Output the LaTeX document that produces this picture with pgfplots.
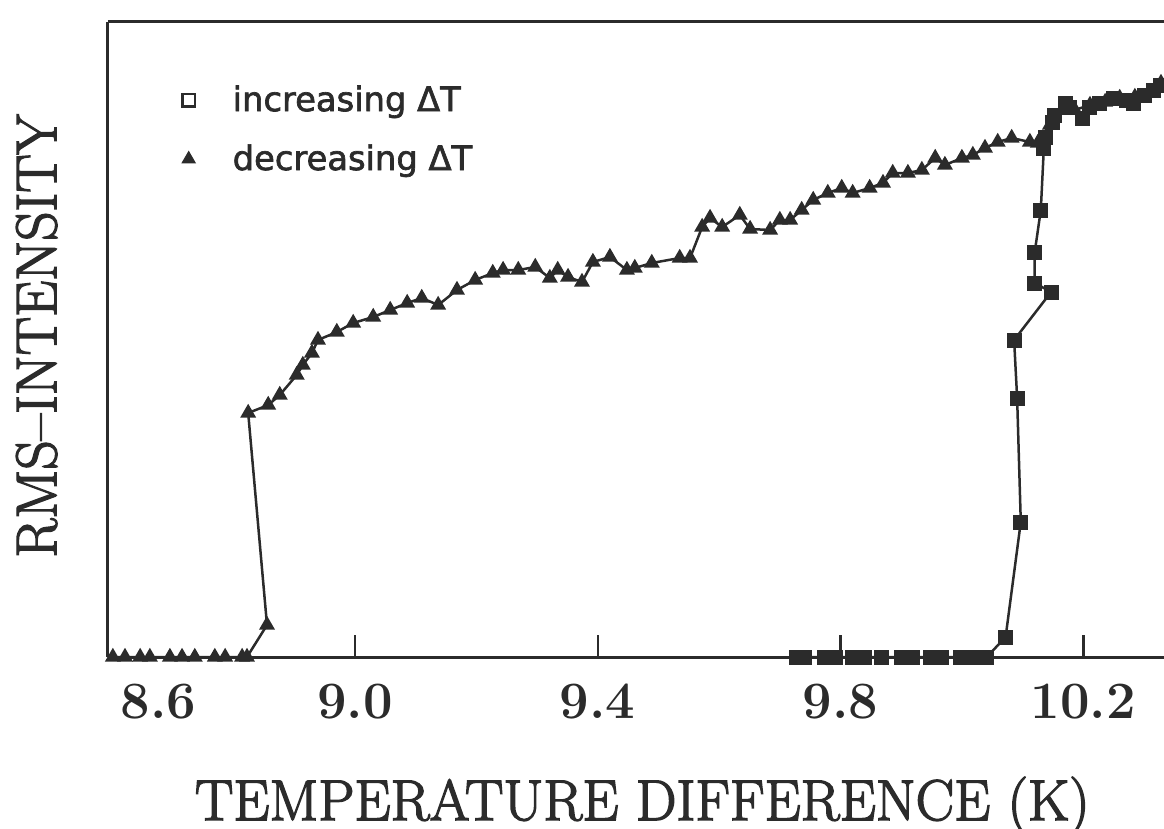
\documentclass[border=0pt]{standalone}
\usepackage{fontspec}
\usepackage{pgfplots}
\usepackage{pgfplotstable}
\pgfplotsset{compat=1.18}
\usetikzlibrary{plotmarks}
\newfontfamily\legfont[FakeBold=2]{DejaVu Sans}
\newfontfamily\labfont[FakeBold=2.5,Ligatures=TeX]{Latin Modern Roman}
\definecolor{ink}{HTML}{2B2B2B}

% decreasing Delta T (triangles), intensity in arbitrary units
\pgfplotstableread{
x y
8.601 0
8.621 0
8.646 0
8.662 0
8.695 0
8.715 0
8.736 0
8.769 0
8.786 0
8.814 0
8.822 0
8.855 32
8.824 244
8.857 252
8.876 262
8.904 282
8.914 292
8.929 304
8.939 317
8.970 325
8.997 334
9.030 340
9.058 347
9.086 354
9.110 359
9.137 352
9.168 367
9.198 377
9.227 384
9.244 387
9.269 387
9.297 390
9.321 379
9.334 387
9.351 380
9.374 375
9.392 395
9.420 400
9.448 387
9.461 389
9.489 394
9.535 399
9.552 399
9.572 430
9.585 439
9.605 430
9.634 442
9.651 428
9.684 427
9.700 437
9.717 437
9.736 447
9.755 457
9.779 464
9.802 469
9.820 464
9.848 469
9.870 474
9.886 484
9.911 484
9.934 487
9.956 499
9.972 492
10.000 499
10.018 502
10.038 509
10.059 515
10.082 519
10.112 515
10.125 514
10.145 532
10.165 547
10.186 547
10.211 552
10.236 555
10.260 559
10.285 560
10.310 565
10.328 574
}\decr

% increasing Delta T (squares)
\pgfplotstableread{
x y
9.727 0
9.741 0
9.774 0
9.791 0
9.820 0
9.839 0
9.867 0
9.901 0
9.918 0
9.949 0
9.967 0
9.997 0
10.013 0
10.030 0
10.041 0
10.072 20
10.097 135
10.091 259
10.086 317
10.147 365
10.120 374
10.120 405
10.130 447
10.135 509
10.137 520
10.150 535
10.153 542
10.170 554
10.178 550
10.198 539
10.211 550
10.227 554
10.249 559
10.272 557
10.282 554
10.301 562
10.315 567
10.328 572
}\incr

\begin{document}
\begin{tikzpicture}
\begin{axis}[name=ax,
  scale only axis, width=422.4pt, height=254pt,
  xmin=8.593, xmax=10.333, ymin=0, ymax=635,
  axis x line*=bottom, axis y line*=left,
  axis line style={ink, line width=1.2pt, -},
  xtick={9.0,9.4,9.8,10.2}, xticklabels={9.0,9.4,9.8,10.2},
  extra x ticks={8.6}, extra x tick labels={8.6},
  extra x tick style={major tick length=0pt, xticklabel style={xshift=18.5pt}},
  ytick=\empty,
  tick align=inside, major tick length=9pt,
  tick style={ink, line width=1pt},
  xticklabel style={font=\bfseries\fontsize{21}{25}\selectfont, text=ink, yshift=-7.4pt},
  xlabel={TEMPERATURE DIFFERENCE (K)},
  ylabel={RMS–INTENSITY},
  every axis x label/.style={at={(axis description cs:0.506,-0.2567)}, anchor=base,
    font=\labfont\fontsize{23}{27}\selectfont, text=ink},
  every axis y label/.style={at={(axis description cs:-0.049,0.5055)}, anchor=base, rotate=90,
    font=\labfont\fontsize{23}{27}\selectfont, text=ink},
  legend image code/.code={\draw[#1] plot coordinates {(0pt,0pt)};},
  legend style={at={(axis description cs:0.0698,0.9008)}, anchor=north west,
    draw=none, fill=none, inner sep=0pt, font=\legfont\fontsize{13.5}{16}\selectfont,
    text=ink, row sep=11.8pt, column sep=15pt, nodes={inner sep=0pt}},
  legend cell align=left,
  clip=false,
]
\addplot[ink, line width=1pt, mark=triangle*, mark size=2.7pt,
  mark options={solid, fill=ink}, forget plot] table {\decr};
\addplot[ink, line width=1pt, mark=square*, mark size=2.5pt,
  mark options={solid, fill=ink}, forget plot] table {\incr};
\addlegendimage{only marks, mark=square, mark size=2.5pt, ink, line width=1.1pt}
\addlegendentry{increasing ΔT}
\addlegendimage{only marks, mark=triangle*, mark size=3pt, ink, fill=ink}
\addlegendentry{decreasing ΔT}
\draw[ink, line width=1.2pt] (rel axis cs:0,1) -- (rel axis cs:1,1);
\end{axis}
\pgfresetboundingbox
\path ([xshift=-43.2pt,yshift=-68.4pt]ax.south west) rectangle ([yshift=8.8pt]ax.north east);
\end{tikzpicture}
\end{document}
